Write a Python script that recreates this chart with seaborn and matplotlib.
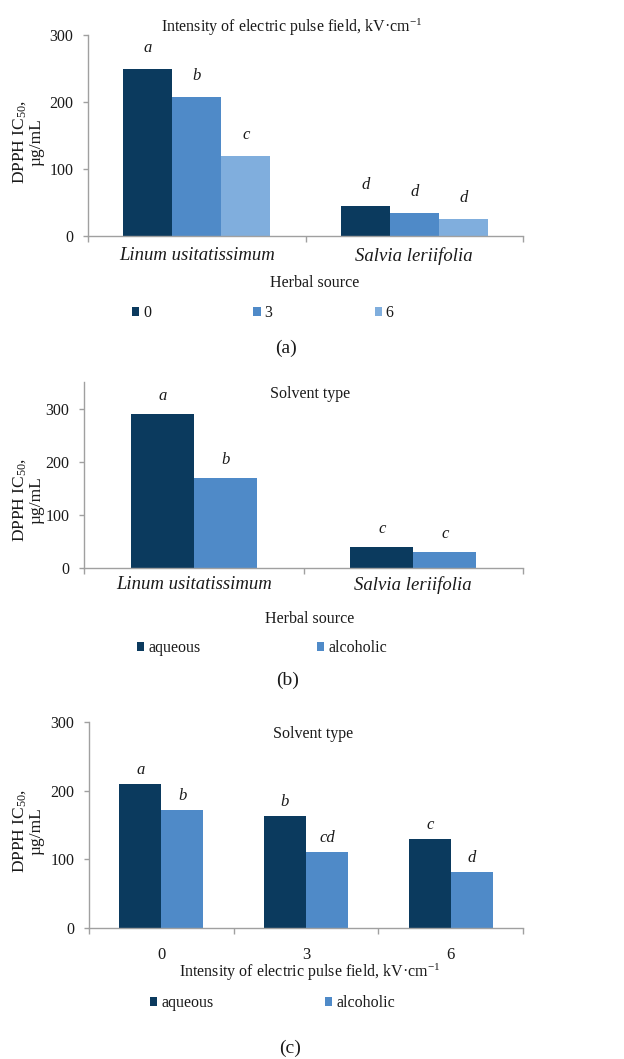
import matplotlib
matplotlib.use("Agg")
import matplotlib.pyplot as plt
import numpy as np
import pandas as pd
import seaborn as sns

# ---------------- data ----------------
herbs = ["Linum usitatissimum", "Salvia leriifolia"]
intensities = ["0", "3", "6"]
solvents = ["aqueous", "alcoholic"]

# (a) DPPH IC50 per herb at each field intensity (kV/cm)
ic50_field_0 = [250, 45]
ic50_field_3 = [208, 35]
ic50_field_6 = [120, 25]
letters_field_0 = ["a", "d"]
letters_field_3 = ["b", "d"]
letters_field_6 = ["c", "d"]

# (b) DPPH IC50 per herb for each solvent
ic50_herb_aqueous = [290, 40]
ic50_herb_alcoholic = [170, 30]
letters_herb_aqueous = ["a", "c"]
letters_herb_alcoholic = ["b", "c"]

# (c) DPPH IC50 per field intensity for each solvent
ic50_int_aqueous = [210, 163, 130]
ic50_int_alcoholic = [172, 110, 82]
letters_int_aqueous = ["a", "b", "c"]
letters_int_alcoholic = ["b", "cd", "d"]

y_ticks = [0, 100, 200, 300]

# ---------------- style ----------------
NAVY = "#0B3A5E"
MID = "#4F8AC8"
LIGHT = "#80AEDD"
GREY = "#A0A0A0"
TXT = "#1a1a1a"

sns.set_theme(style="white")
plt.rcParams["font.family"] = ["Liberation Serif", "DejaVu Serif"]
plt.rcParams["mathtext.fontset"] = "custom"
plt.rcParams["mathtext.rm"] = "Liberation Serif"
plt.rcParams["mathtext.it"] = "Liberation Serif:italic"
plt.rcParams["mathtext.bf"] = "Liberation Serif:bold"
plt.rcParams["text.color"] = TXT

W, H = 624, 1059
fig = plt.figure(figsize=(W / 100, H / 100), dpi=100)


def fx(x):
    return x / W


def fy(y):
    return 1 - y / H


def add_axes(left, right, top, bottom):
    return fig.add_axes([fx(left), fy(bottom), fx(right) - fx(left), fy(top) - fy(bottom)])


def style_axes(ax, ymax, n_cat, xlab_size, xlab_style, xlab_pad):
    ax.set_ylim(0, ymax)
    ax.set_xlim(-0.5, n_cat - 0.5)
    ax.set_yticks(y_ticks)
    for s in ["top", "right"]:
        ax.spines[s].set_visible(False)
    for s in ["left", "bottom"]:
        ax.spines[s].set_color(GREY)
        ax.spines[s].set_linewidth(1.0)
    ax.tick_params(axis="y", length=3.5, width=1, color=GREY, labelsize=11.5,
                   labelcolor=TXT, pad=7, left=True)
    ax.set_xticks(np.arange(-0.5, n_cat), minor=True)
    ax.tick_params(axis="x", which="major", length=0, labelsize=xlab_size,
                   labelcolor=TXT, pad=xlab_pad, bottom=True)
    ax.tick_params(axis="x", which="minor", length=4, width=1, color=GREY, bottom=True)
    for lab in ax.get_xticklabels():
        lab.set_style(xlab_style)


def ylabel(ax, yc):
    ax.set_ylabel("DPPH IC$_{50}$,\nµg/mL", fontsize=12.5, color=TXT, linespacing=1.0)
    ax.yaxis.label.set(rotation_mode="default", va="center", ha="center",
                       multialignment="center")
    ax.yaxis.set_label_coords(fx(28), fy(yc), transform=fig.transFigure)


def xlabel(ax, text, x, y):
    ax.set_xlabel(text, fontsize=11.5, color=TXT)
    ax.xaxis.label.set_va("center")
    ax.xaxis.set_label_coords(fx(x), fy(y), transform=fig.transFigure)


def letters_on_bars(ax, letters_by_hue, offset):
    for container, letters in zip(ax.containers, letters_by_hue):
        for bar, letter in zip(container, letters):
            ax.annotate(letter, (bar.get_x() + bar.get_width() / 2, bar.get_height()),
                        xytext=(0, offset), textcoords="offset pixels",
                        ha="center", va="center", fontsize=12, style="italic",
                        color=TXT)


def legend(ax, x, y, colspace):
    sns.move_legend(ax, "center left", bbox_to_anchor=(fx(x), fy(y)),
                    bbox_transform=fig.transFigure, ncol=3, frameon=False,
                    title=None, fontsize=11.5, handlelength=0.45, handleheight=0.45,
                    handletextpad=0.25, columnspacing=colspace, borderpad=0,
                    borderaxespad=0)


# ---------------- panel (a) ----------------
df_a = pd.DataFrame({
    "herb": herbs * 3,
    "field": ["0"] * 2 + ["3"] * 2 + ["6"] * 2,
    "ic50": ic50_field_0 + ic50_field_3 + ic50_field_6,
})
ax_a = add_axes(88, 523, 35, 236)
sns.barplot(data=df_a, x="herb", y="ic50", hue="field", order=herbs,
            hue_order=intensities, palette=[NAVY, MID, LIGHT], saturation=1,
            width=0.676, errorbar=None, linewidth=0, ax=ax_a)
style_axes(ax_a, 300, 2, 13.5, "italic", 8)
letters_on_bars(ax_a, [letters_field_0, letters_field_3, letters_field_6], 21)
ylabel(ax_a, 142)
xlabel(ax_a, "Herbal source", 315, 283)
fig.text(fx(292), fy(27), "Intensity of electric pulse field, kV·cm$^{-1}$",
         fontsize=11.5, ha="center", va="center")
legend(ax_a, 132, 313, 6.4)
fig.text(fx(286), fy(348), "(a)", fontsize=14, ha="center", va="center")

# ---------------- panel (b) ----------------
df_b = pd.DataFrame({
    "herb": herbs * 2,
    "solvent": ["aqueous"] * 2 + ["alcoholic"] * 2,
    "ic50": ic50_herb_aqueous + ic50_herb_alcoholic,
})
ax_b = add_axes(84, 523, 382, 568)
sns.barplot(data=df_b, x="herb", y="ic50", hue="solvent", order=herbs,
            hue_order=solvents, palette=[NAVY, MID], saturation=1,
            width=0.574, errorbar=None, linewidth=0, ax=ax_b)
style_axes(ax_b, 350, 2, 13.5, "italic", 6)
letters_on_bars(ax_b, [letters_herb_aqueous, letters_herb_alcoholic], 18)
ylabel(ax_b, 500)
xlabel(ax_b, "Herbal source", 310, 619)
fig.text(fx(310), fy(394), "Solvent type", fontsize=11.5, ha="center", va="center")
legend(ax_b, 137, 648, 7.3)
fig.text(fx(288), fy(680), "(b)", fontsize=14, ha="center", va="center")

# ---------------- panel (c) ----------------
df_c = pd.DataFrame({
    "field": intensities * 2,
    "solvent": ["aqueous"] * 3 + ["alcoholic"] * 3,
    "ic50": ic50_int_aqueous + ic50_int_alcoholic,
})
ax_c = add_axes(89, 523, 722, 928)
sns.barplot(data=df_c, x="field", y="ic50", hue="solvent", order=intensities,
            hue_order=solvents, palette=[NAVY, MID], saturation=1,
            width=0.58, errorbar=None, linewidth=0, ax=ax_c)
style_axes(ax_c, 300, 3, 12, "normal", 14)
letters_on_bars(ax_c, [letters_int_aqueous, letters_int_alcoholic], 14)
ylabel(ax_c, 831)
xlabel(ax_c, "Intensity of electric pulse field, kV·cm$^{-1}$", 310, 972)
fig.text(fx(313), fy(734), "Solvent type", fontsize=11.5, ha="center", va="center")
legend(ax_c, 150, 1003, 7.0)
fig.text(fx(290), fy(1048), "(c)", fontsize=14, ha="center", va="center")

fig.savefig("out.png", dpi=100, facecolor="white")
